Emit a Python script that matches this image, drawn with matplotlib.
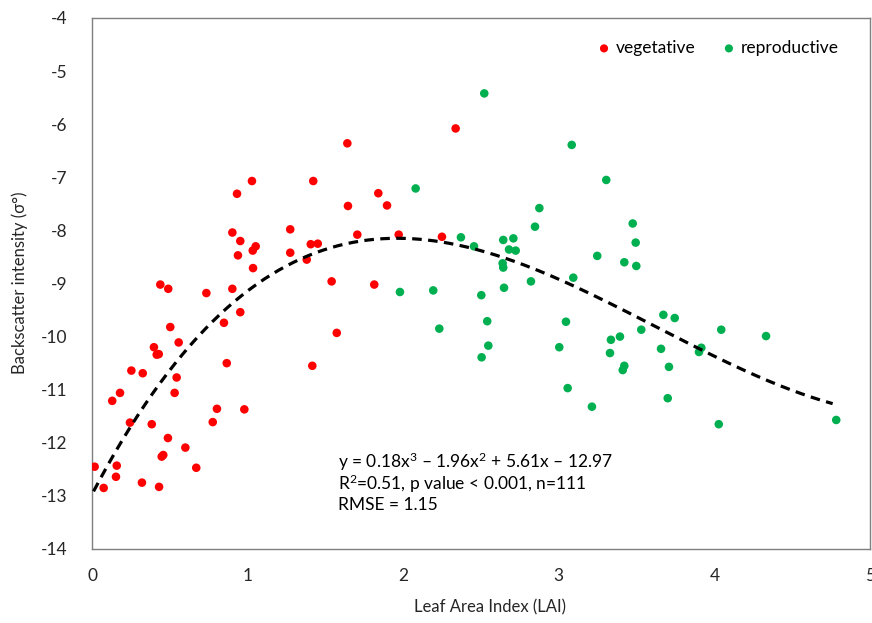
import matplotlib
matplotlib.use("Agg")
import matplotlib.pyplot as plt
import numpy as np

plt.rcParams['font.family'] = ['Lato', 'DejaVu Sans']
plt.rcParams['mathtext.fontset'] = 'custom'
plt.rcParams['mathtext.rm'] = 'Lato'
plt.rcParams['mathtext.it'] = 'Lato'

veg_lai = [0.398, 0.429, 0.416, 0.557, 0.866, 0.253, 0.326, 0.544, 0.180, 0.130,
           0.531, 0.803, 0.979, 0.776, 0.244, 0.384, 0.488, 0.600, 0.448, 0.458,
           0.017, 0.159, 0.670, 0.154, 0.075, 0.321, 0.431, 1.028, 0.932, 0.902,
           0.953, 1.052, 1.033, 0.938, 1.035, 0.439, 0.490, 0.735, 0.902, 0.953,
           0.848, 0.503, 2.337, 1.641, 1.422, 1.840, 1.645, 1.896, 1.274, 1.705,
           1.971, 2.249, 1.274, 1.406, 1.451, 1.380, 1.540, 1.814, 1.573, 1.416]
veg_sigma = [-10.20, -10.33, -10.34, -10.11, -10.50, -10.64, -10.69, -10.77, -11.06, -11.21,
             -11.06, -11.36, -11.37, -11.61, -11.62, -11.65, -11.91, -12.09, -12.26, -12.23,
             -12.45, -12.43, -12.47, -12.64, -12.85, -12.75, -12.83, -7.07, -7.31, -8.04,
             -8.20, -8.30, -8.38, -8.47, -8.71, -9.02, -9.10, -9.18, -9.10, -9.54,
             -9.74, -9.82, -6.08, -6.36, -7.07, -7.30, -7.54, -7.53, -7.98, -8.08,
             -8.08, -8.12, -8.42, -8.26, -8.25, -8.55, -8.96, -9.02, -9.93, -10.55]

rep_lai = [2.080, 2.371, 2.455, 1.979, 2.193, 2.502, 2.232, 2.540, 2.547, 2.521,
           3.083, 3.305, 2.875, 2.847, 3.475, 3.494, 2.643, 2.708, 2.680, 2.723,
           2.639, 2.643, 3.247, 3.421, 3.498, 2.648, 2.821, 3.093, 3.046, 2.504,
           3.003, 3.335, 3.393, 3.329, 3.421, 3.411, 3.672, 3.745, 3.530, 4.044,
           4.332, 3.657, 3.916, 3.901, 3.708, 3.057, 3.213, 3.700, 4.028, 4.783]
rep_sigma = [-7.21, -8.13, -8.30, -9.16, -9.13, -9.22, -9.85, -9.71, -10.17, -5.42,
             -6.39, -7.05, -7.58, -7.93, -7.87, -8.23, -8.18, -8.15, -8.36, -8.38,
             -8.62, -8.70, -8.48, -8.60, -8.67, -9.08, -8.96, -8.89, -9.72, -10.39,
             -10.20, -10.06, -10.00, -10.31, -10.55, -10.63, -9.59, -9.65, -9.87, -9.87,
             -9.99, -10.23, -10.21, -10.29, -10.57, -10.97, -11.32, -11.16, -11.65, -11.57]

fit_coef = [0.18, -1.96, 5.61, -12.97]   # cubic trendline coefficients (from the chart's equation)
fit_range = [0.01, 4.76]

x_ticks = [0, 1, 2, 3, 4, 5]
y_ticks = [-14, -13, -12, -11, -10, -9, -8, -7, -6, -5, -4]

W, H = 872, 623
fig = plt.figure(figsize=(W / 100, H / 100), dpi=100)
ax = fig.add_axes([92 / W, (H - 549) / H, (870 - 92) / W, (549 - 18) / H])

ax.scatter(veg_lai, veg_sigma, s=38, color='#FF0000', edgecolors='none', label='vegetative', zorder=3)
ax.scatter(rep_lai, rep_sigma, s=38, color='#00B050', edgecolors='none', label='reproductive', zorder=3)

xf = np.linspace(fit_range[0], fit_range[1], 300)
ax.plot(xf, np.polyval(fit_coef, xf), color='black', lw=2.3, ls=(0, (3, 2)), zorder=4)

ax.set_xlim(0, 5)
ax.set_ylim(-14, -4)
ax.set_xticks(x_ticks)
ax.set_yticks(y_ticks)
ax.set_xticklabels([str(v) for v in x_ticks])
ax.set_yticklabels([str(v) for v in y_ticks])
ax.tick_params(axis='both', length=0, labelsize=12.5, labelcolor='#262626')
ax.tick_params(axis='x', pad=14)
ax.tick_params(axis='y', pad=18)
for s in ax.spines.values():
    s.set_color('#7f7f7f')
    s.set_linewidth(1.0)

fig.text(20 / W, 1 - 283 / H, 'Backscatter intensity (σ°)', rotation=90, ha='center', va='center',
         fontsize=12, color='#262626')
fig.text(490 / W, 1 - 607 / H, 'Leaf Area Index (LAI)', ha='center', va='center',
         fontsize=12, color='#262626')

eq_lines = ['y = 0.18x$^3$ – 1.96x$^2$ + 5.61x – 12.97',
            'R$^2$=0.51, p value < 0.001, n=111',
            'RMSE = 1.15']
for i, line in enumerate(eq_lines):
    fig.text(338 / W, 1 - (462 + 21.7 * i) / H, line, ha='left', va='center', fontsize=12.5, color='black')

leg = ax.legend(loc='upper right', bbox_to_anchor=(846 / W, 1 - 33 / H), bbox_transform=fig.transFigure,
                ncol=2, frameon=False, fontsize=12.5, handletextpad=0.1, columnspacing=1.3,
                handlelength=1.2, markerscale=0.95, borderaxespad=0)

fig.savefig('out.png', dpi=100)
